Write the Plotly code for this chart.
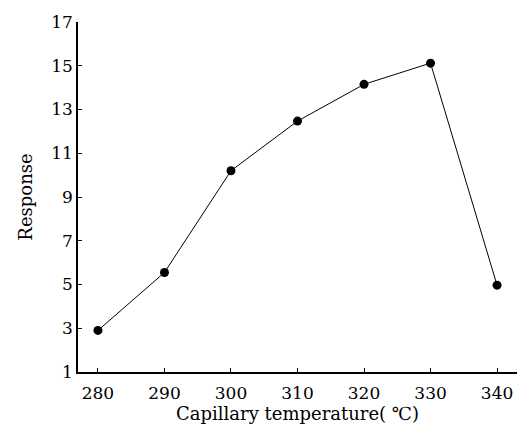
import plotly.graph_objects as go

temperature = [280, 290, 300, 310, 320, 330, 340]
response = [2.9, 5.55, 10.2, 12.47, 14.15, 15.12, 4.97]
x_ticks = [280, 290, 300, 310, 320, 330, 340]
y_ticks = [1, 3, 5, 7, 9, 11, 13, 15, 17]

tick_font = dict(family="DejaVu Serif, Liberation Serif, serif", size=17, color="black")
title_font = dict(family="DejaVu Serif, Liberation Serif, serif", size=18, color="black")

fig = go.Figure(go.Scatter(
    x=temperature, y=response, mode="lines+markers",
    line=dict(color="black", width=1),
    marker=dict(color="black", size=9),
))

fig.update_layout(
    width=517, height=427,
    margin=dict(l=78, r=0, t=22, b=55),
    paper_bgcolor="white", plot_bgcolor="white",
    showlegend=False, font=tick_font,
)
fig.update_xaxes(
    range=[277, 343], tickvals=x_ticks, ticktext=[str(v) for v in x_ticks],
    showline=True, linecolor="black", linewidth=1.5, showgrid=False, zeroline=False,
    ticks="inside", ticklen=4, tickcolor="black", tickfont=tick_font,
    ticklabelstandoff=5,
    title=dict(text="Capillary temperature( ℃)", standoff=4, font=title_font),
)
fig.update_yaxes(
    range=[1, 17], tickvals=y_ticks, ticktext=[str(v) for v in y_ticks],
    showline=True, linecolor="black", linewidth=1.5, showgrid=False, zeroline=False,
    ticks="inside", ticklen=4, tickcolor="black", tickfont=tick_font,
    title=dict(text="Response", standoff=14, font=title_font),
)

fig.write_html(
    "out.html",
    config={"displayModeBar": False},
    post_script="document.body.style.margin='0';document.body.style.overflow='hidden';",
)
